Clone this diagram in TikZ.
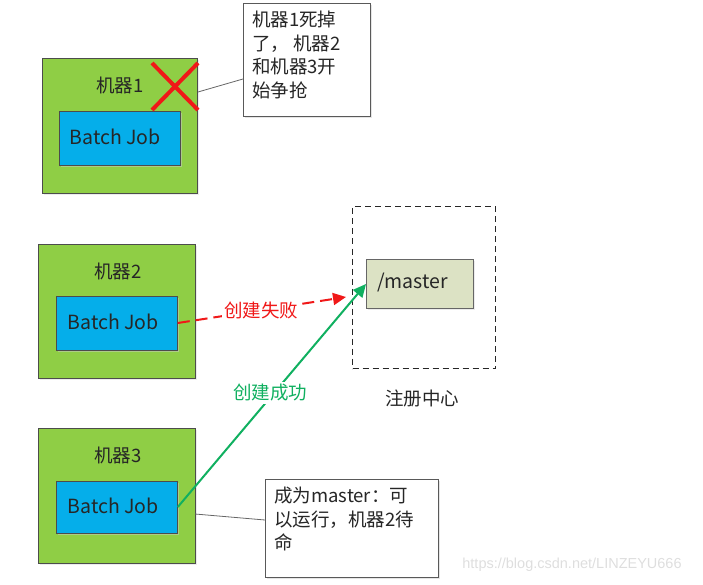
\documentclass[tikz,border=0pt]{standalone}
\usepackage{fontspec}
\setmainfont{Noto Sans CJK SC}
\newfontfamily\wmfont{Liberation Sans}
\usetikzlibrary{arrows.meta,shadows}
\definecolor{mgreen}{HTML}{8FCE45}
\definecolor{jblue}{HTML}{05AEEA}
\definecolor{mastfill}{HTML}{DCE2C4}
\definecolor{okgreen}{HTML}{10B060}
\definecolor{fred}{HTML}{F01818}
\tikzset{
  machine/.style={draw=black!70, fill=mgreen, line width=0.8pt, inner sep=0pt,
    drop shadow={shadow xshift=2pt, shadow yshift=-2pt, fill=black!15}},
  jobbox/.style={draw=black!70, fill=jblue, line width=0.8pt, inner sep=0pt,
    drop shadow={shadow xshift=2pt, shadow yshift=-2pt, fill=black!20}},
  callout/.style={draw=black!65, fill=white, line width=0.8pt, inner sep=0pt,
    drop shadow={shadow xshift=2pt, shadow yshift=-2pt, fill=black!20}},
  lbl/.style={font=\fontsize{18.5}{23.5}\selectfont, text=black!85, inner sep=0pt},
  jobtxt/.style={font=\fontsize{19.5}{23}\selectfont, text=black!85, inner sep=0pt},
  notetxt/.style={font=\fontsize{18.5}{23.5}\selectfont, text=black!85, inner sep=0pt, align=left, anchor=north west},
  tie/.style={draw=black!60, line width=0.8pt},
}
\begin{document}
\begin{tikzpicture}[x=1pt,y=-1pt]
\useasboundingbox (0,0) rectangle (703,585);
% machine 1
\node[machine, minimum width=155pt, minimum height=135pt, anchor=north west] (m1) at (42,58) {};
\node[lbl] (m1l) at (120,85) {机器1};
\node[jobbox, minimum width=121pt, minimum height=54pt, anchor=north west] (j1) at (59,111) {};
\node[jobtxt] (j1t) at (115,137) {Batch Job};
\draw[fred, line width=4pt] (152,63) -- (198,110);
\draw[fred, line width=4pt] (152,110) -- (198,63);
% callout 1
\node[callout, minimum width=127pt, minimum height=113pt, anchor=north west] (c1) at (243,3) {};
\node[notetxt] (c1t) at (252,11) {机器1死掉\\了， 机器2\\和机器3开\\始争抢};
\coordinate (c1a) at (198,92);
\draw[tie] (c1a) -- (c1.west |- 0,79);
% machine 2
\node[machine, minimum width=157pt, minimum height=134pt, anchor=north west] (m2) at (38,244) {};
\node[lbl] (m2l) at (118,271) {机器2};
\node[jobbox, minimum width=121pt, minimum height=54pt, anchor=north west] (j2) at (56,296) {};
\node[jobtxt] (j2t) at (113,322) {Batch Job};
% machine 3
\node[machine, minimum width=157pt, minimum height=135pt, anchor=north west] (m3) at (38,428) {};
\node[lbl] (m3l) at (118,455) {机器3};
\node[jobbox, minimum width=121pt, minimum height=52pt, anchor=north west] (j3) at (56,481) {};
\node[jobtxt] (j3t) at (113,506) {Batch Job};
% registry
\node[draw=black!85, dashed, dash pattern=on 6pt off 4pt, line width=1pt, minimum width=143pt, minimum height=162pt, anchor=north west, inner sep=0pt] (reg) at (352,206) {};
\node[lbl] (regl) at (422,398) {注册中心};
\node[draw=black!60, fill=mastfill, line width=0.8pt, minimum width=107pt, minimum height=49pt, anchor=north west, inner sep=0pt,
  drop shadow={shadow xshift=2pt, shadow yshift=-2pt, fill=black!15}] (ms) at (366,259) {};
\node[jobtxt, anchor=west] (mst) at (377,283) {/master};
% arrows
\coordinate (failend) at (346,297);
\draw[fred, line width=2pt, dash pattern=on 12pt off 6pt, -{Triangle[length=13pt,width=12pt]}] (j2.east |- 0,323) -- (failend);
\node[lbl, text=fred, fill=white, inner sep=2pt] (faill) at (261,310) {创建失败};
\coordinate (okend) at (366,284);
\draw[okgreen, line width=2pt, -{Triangle[length=13pt,width=12pt]}] (j3.east |- 0,507) -- (okend);
\node[lbl, text=okgreen, fill=white, inner sep=2pt] (okl) at (270,393) {创建成功};
% callout 2
\node[callout, minimum width=173pt, minimum height=98pt, anchor=north west] (c2) at (265,479) {};
\node[notetxt] (c2t) at (274,487) {成为master：可\\以运行，机器2待\\命};
\coordinate (c2a) at (195,514);
\draw[tie] (c2a) -- (c2.west |- 0,520);
% watermark
\node[font=\wmfont\fontsize{14.5}{16}\selectfont, text=black!13, inner sep=0pt] (wm) at (572,565) {https://blog.csdn.net/LINZEYU666};
\end{tikzpicture}
\end{document}
